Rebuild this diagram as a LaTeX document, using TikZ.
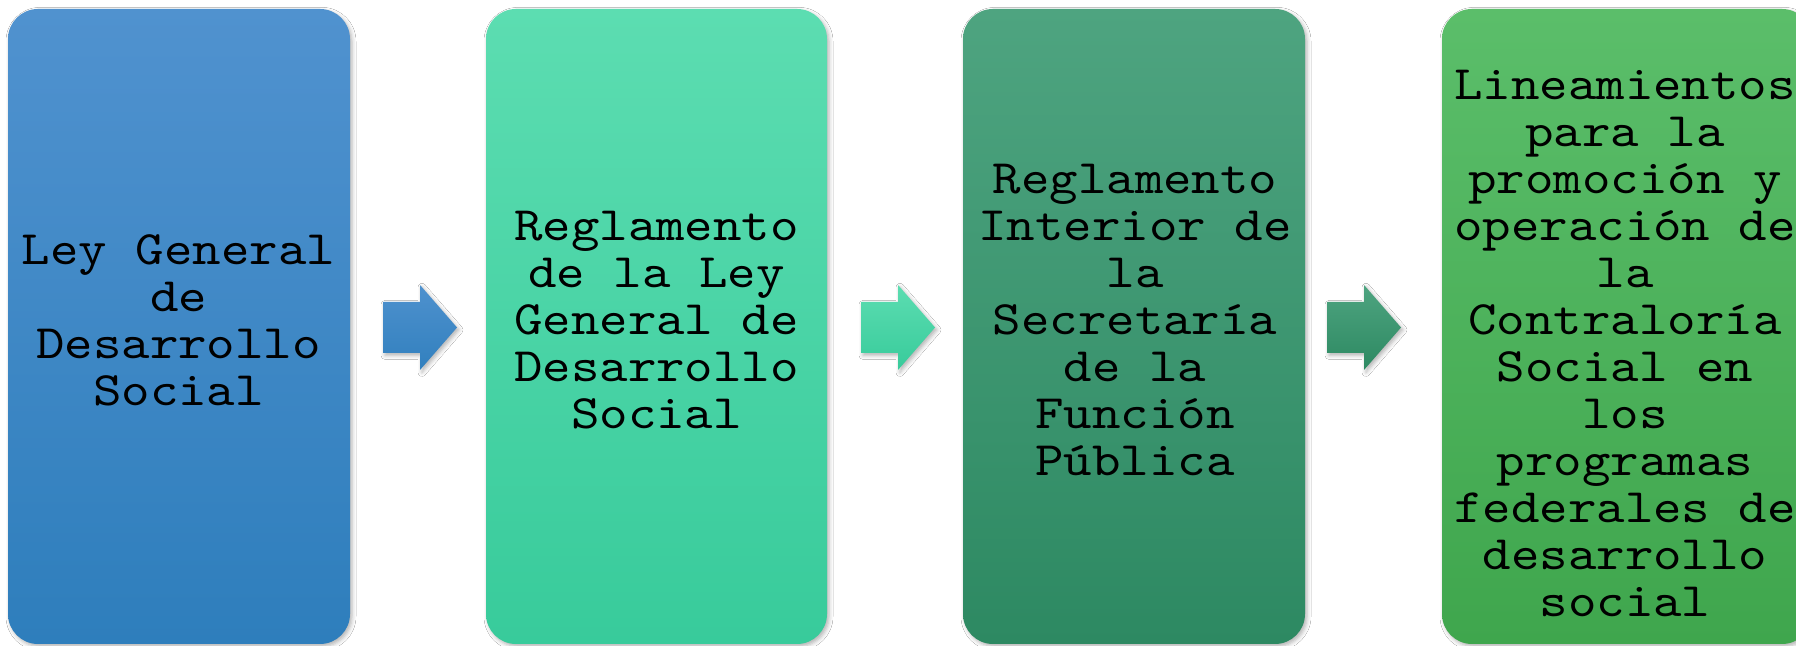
\documentclass[tikz,border=0pt]{standalone}
\usepackage{fontspec}
\newfontfamily\boxtt{lmmono10-regular.otf}[FakeStretch=1.13]
\usetikzlibrary{shadows.blur}
\definecolor{bAtop}{RGB}{80,146,207}
\definecolor{bAbot}{RGB}{46,126,188}
\definecolor{bBtop}{RGB}{92,221,177}
\definecolor{bBbot}{RGB}{56,203,155}
\definecolor{bCtop}{RGB}{78,164,128}
\definecolor{bCbot}{RGB}{45,137,98}
\definecolor{bDtop}{RGB}{91,190,106}
\definecolor{bDbot}{RGB}{63,166,77}
\newcommand\topstrut{\vrule width 0pt height 0.9em depth 0pt\relax}
\newcommand\botstrut{\vrule width 0pt height 0pt depth 0.9em\relax}
\newcommand\boxfont{\boxtt\fontsize{24}{23.5}\selectfont\lineskiplimit=-100pt\relax}
\newcommand\blkarrow[4]{%
  \path[arrowshape,top color=#2,bottom color=#3] (#1,293) coordinate (#4)
    -- ++(37,0) -- ++(0,-17) -- ++(37,42.5) -- ++(-37,42.5) -- ++(0,-17) -- ++(-37,0) -- cycle;}
\begin{document}
\begin{tikzpicture}[x=0.5pt,y=0.5pt,
  softshadow/.style={blur shadow={shadow xshift=1pt,shadow yshift=-1.2pt,shadow blur radius=2pt,shadow opacity=30}},
  box/.style={rectangle,rounded corners=15pt,minimum height=317.5pt,inner sep=0pt,softshadow},
  arrowshape/.style={softshadow},
  boxtext/.style={inner sep=0pt,align=center,text=black,font=\boxfont}]
\useasboundingbox (0,0) rectangle (1796,646);
\fill[white] (0,0) rectangle (1796,646);
% boxes
\node[box,minimum width=171pt,top color=bAtop,bottom color=bAbot] (b1) at (179,319.5) {};
\node[box,minimum width=170.5pt,top color=bBtop,bottom color=bBbot] (b2) at (656.5,319.5) {};
\node[box,minimum width=171pt,top color=bCtop,bottom color=bCbot] (b3) at (1134,319.5) {};
\node[box,minimum width=185pt,top color=bDtop,bottom color=bDbot] (b4) at (1627,319.5) {};
% arrows
\blkarrow{383}{bAtop!95!bAbot}{bAbot!90!bAtop}{a1}
\blkarrow{861}{bBtop}{bBbot}{a2}
\blkarrow{1327}{bCtop}{bCbot}{a3}
% texts
\node[boxtext] (t1) at (178.5,311) {\topstrut Ley General\\de\\Desarrollo\\Social\botstrut};
\node[boxtext] (t2) at (656.5,311) {\topstrut Reglamento\\de la Ley\\General de\\Desarrollo\\Social\botstrut};
\node[boxtext] (t3) at (1135,311) {\topstrut Reglamento\\Interior de\\la\\Secretaría\\de la\\Función\\Pública\botstrut};
\node[boxtext] (t4) at (1625,288) {\topstrut Lineamientos\\para la\\promoción y\\operación de\\la\\Contraloría\\Social en\\los\\programas\\federales de\\desarrollo\\social\botstrut};
\end{tikzpicture}
\end{document}
